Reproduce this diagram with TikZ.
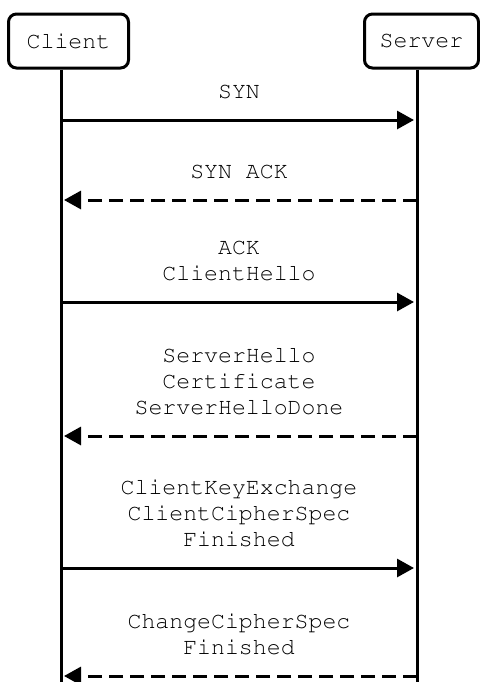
\documentclass[tikz,border=0pt]{standalone}
\usepackage[T1]{fontenc}
\usetikzlibrary{arrows.meta}
\newcommand{\msgfont}{\fontencoding{T1}\fontfamily{pcr}\fontsize{11.6}{13}\selectfont}
\begin{document}
\begin{tikzpicture}[x=0.5pt, y=-0.5pt]
	\tikzset{party/.style={draw, line width=1.5pt, rounded corners=4pt, minimum height=27pt, inner sep=0pt, font=\msgfont}}
	\tikzset{lifeline/.style={draw, line width=1.5pt}}
	\tikzset{msg/.style={draw, line width=1.5pt, -{Triangle[length=8.5pt, width=9pt]}, shorten >=1.5pt}}
	\tikzset{reply/.style={msg, dash pattern=on 7pt off 3.5pt}}
	\tikzset{msglabel/.style={above=10pt, inner sep=0pt, align=center, font=\msgfont}}
	
	\useasboundingbox (0,0) rectangle (480,682);
	
	\node[party, minimum width=60pt] (client) at (68.5, 41) {Client};
	\node[party, minimum width=57pt] (server) at (421.5, 41) {Server};
	
	\coordinate (cend) at (61, 684);
	\coordinate (send) at (417, 684);
	\draw[lifeline] (client.south -| cend) -- (cend);
	\draw[lifeline] (server.south -| send) -- (send);
	
	\coordinate (c1) at (61, 120);
	\coordinate (s1) at (417, 120);
	\coordinate (c2) at (61, 200);
	\coordinate (s2) at (417, 200);
	\coordinate (c3) at (61, 302);
	\coordinate (s3) at (417, 302);
	\coordinate (c4) at (61, 436);
	\coordinate (s4) at (417, 436);
	\coordinate (c5) at (61, 568);
	\coordinate (s5) at (417, 568);
	\coordinate (c6) at (61, 676);
	\coordinate (s6) at (417, 676);
	
	\draw[msg] (c1) -- node[msglabel] {SYN} (s1);
	\draw[reply] (s2) -- node[msglabel] {SYN ACK} (c2);
	\draw[msg] (c3) -- node[msglabel] {ACK\\ClientHello} (s3);
	\draw[reply] (s4) -- node[msglabel] {ServerHello\\Certificate\\ServerHelloDone} (c4);
	\draw[msg] (c5) -- node[msglabel] {ClientKeyExchange\\ClientCipherSpec\\Finished} (s5);
	\draw[reply] (s6) -- node[msglabel] {ChangeCipherSpec\\Finished} (c6);
\end{tikzpicture}
\end{document}
